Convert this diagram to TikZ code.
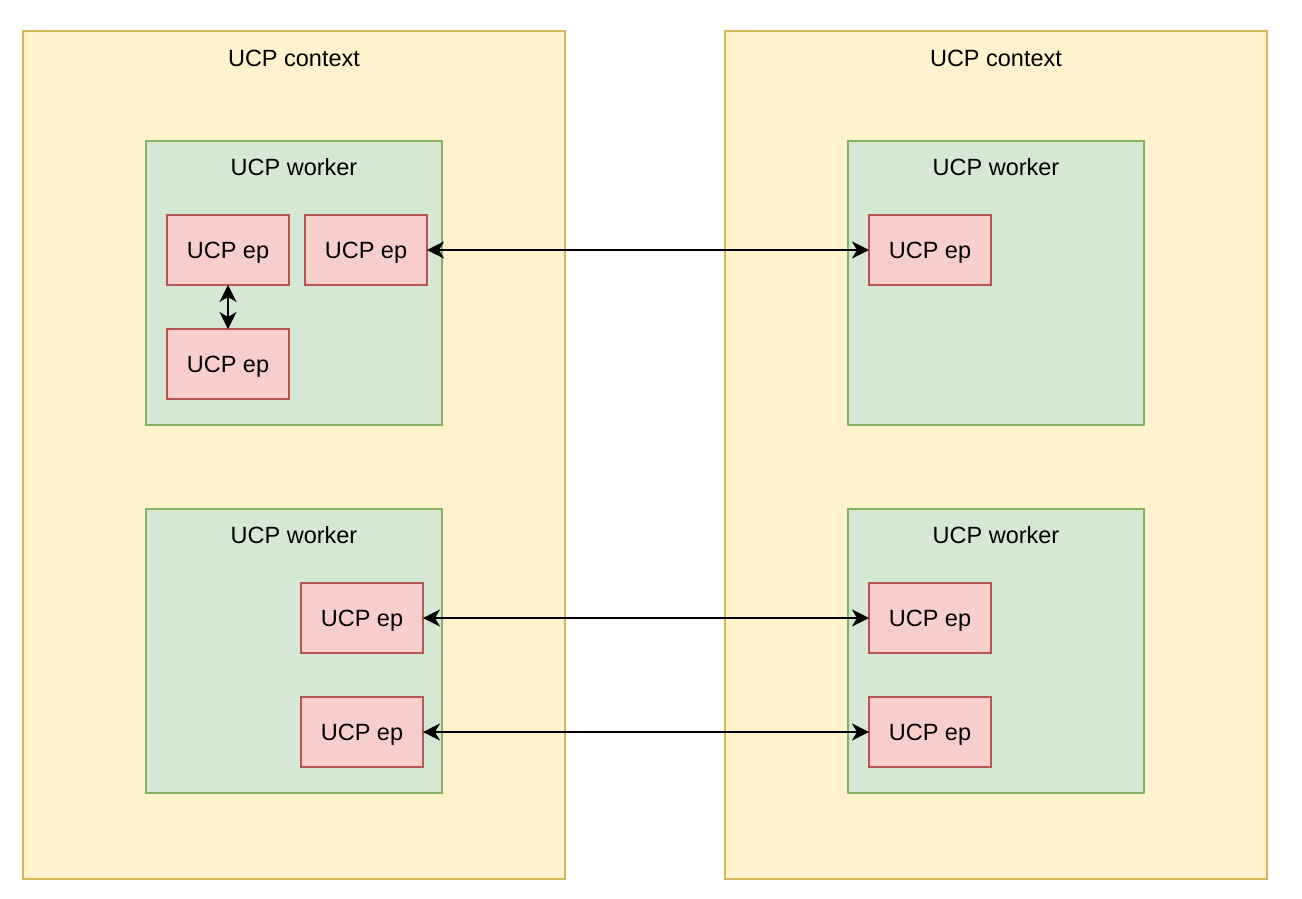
\documentclass[tikz,border=0pt]{standalone}
\usepackage{fontspec}
\setmainfont{Liberation Sans}
\usetikzlibrary{arrows.meta}
\definecolor{ctxfill}{HTML}{FFF2CC}
\definecolor{ctxdraw}{HTML}{D6B656}
\definecolor{wfill}{HTML}{D5E8D4}
\definecolor{wdraw}{HTML}{82B366}
\definecolor{efill}{HTML}{F8CECC}
\definecolor{edraw}{HTML}{B85450}
\begin{document}
\begin{tikzpicture}[x=1pt,y=-1pt,
  every node/.style={font=\fontsize{23.5}{28}\selectfont, inner sep=0pt, outer sep=0pt, text height=16.8pt, text depth=0pt},
  ctx/.style={draw=ctxdraw, fill=ctxfill, line width=2pt, minimum width=542pt, minimum height=848pt},
  worker/.style={draw=wdraw, fill=wfill, line width=2pt, minimum width=296pt, minimum height=284pt},
  ep/.style={draw=edraw, fill=efill, line width=2pt, minimum width=122pt, minimum height=70pt},
  lbl/.style={anchor=center},
  link/.style={line width=2pt, {Stealth[length=17pt,width=17pt,inset=5pt]}-{Stealth[length=17pt,width=17pt,inset=5pt]}}
]
\useasboundingbox (0,0) rectangle (1302,898);
% contexts
\node[ctx] (ctxL) at (294,455) {};
\node[ctx] (ctxR) at (996,455) {};
\node[lbl] (ctxLlbl) at (294,58) {UCP context};
\node[lbl] (ctxRlbl) at (996,58) {UCP context};
% workers
\node[worker] (wLT) at (294,283) {};
\node[worker] (wLB) at (294,651) {};
\node[worker] (wRT) at (996,283) {};
\node[worker] (wRB) at (996,651) {};
\node[lbl] (wLTlbl) at (294,167) {UCP worker};
\node[lbl] (wLBlbl) at (294,535) {UCP worker};
\node[lbl] (wRTlbl) at (996,167) {UCP worker};
\node[lbl] (wRBlbl) at (996,535) {UCP worker};
% endpoints
\node[ep] (e1) at (228,250) {UCP ep};
\node[ep] (e2) at (366,250) {UCP ep};
\node[ep] (e3) at (228,364) {UCP ep};
\node[ep] (e4) at (362,618) {UCP ep};
\node[ep] (e5) at (362,732) {UCP ep};
\node[ep] (r1) at (930,250) {UCP ep};
\node[ep] (r2) at (930,618) {UCP ep};
\node[ep] (r3) at (930,732) {UCP ep};
% links
\draw[link] (e1) -- (e3);
\draw[link] (e2) -- (r1);
\draw[link] (e4) -- (r2);
\draw[link] (e5) -- (r3);
\end{tikzpicture}
\end{document}
